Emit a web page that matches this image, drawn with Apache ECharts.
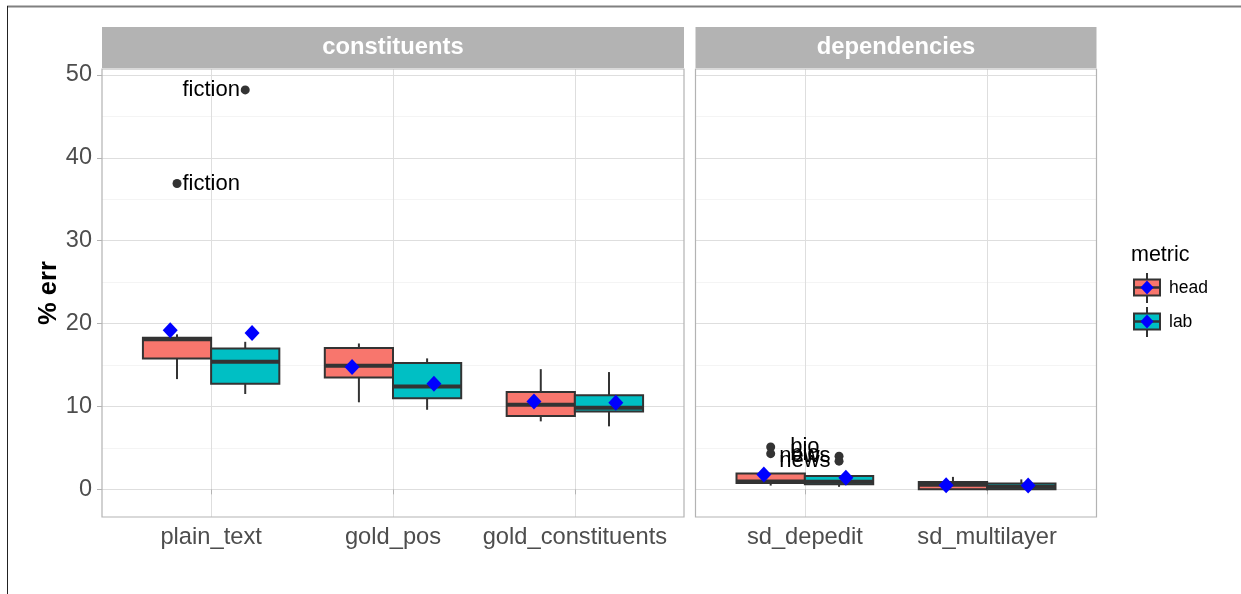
<!DOCTYPE html>
<html>
<head>
<meta charset="utf-8">
<script src="https://cdn.jsdelivr.net/npm/echarts@6/dist/echarts.min.js"></script>
<style>html,body{margin:0;padding:0;background:#fff}#c{width:1241px;height:594px}</style>
</head>
<body>
<div id="c"></div>
<script>
// ---- data ----
const panels = ['constituents', 'dependencies'];
const catsL = ['plain_text', 'gold_pos', 'gold_constituents'];
const catsR = ['sd_depedit', 'sd_multilayer'];
const yTicks = [0, 10, 20, 30, 40, 50];
const yMinor = [5, 15, 25, 35, 45];
// box stats: [lower whisker, Q1, median, Q3, upper whisker]
const headBoxL = [[13.3, 15.8, 18.1, 18.3, 18.7], [10.5, 13.5, 14.9, 17.05, 17.6], [8.2, 8.85, 10.2, 11.75, 14.5]];
const labBoxL  = [[11.5, 12.75, 15.4, 17.0, 17.8], [9.6, 11.0, 12.4, 15.25, 15.8], [7.6, 9.4, 9.85, 11.35, 14.15]];
const headBoxR = [[0.45, 0.75, 0.95, 1.9, 1.9], [0.0, 0.02, 0.55, 0.88, 1.5]];
const labBoxR  = [[0.3, 0.6, 0.9, 1.6, 1.6], [0.0, 0.02, 0.3, 0.7, 1.2]];
const headMeanL = [19.2, 14.75, 10.6];
const labMeanL  = [18.85, 12.75, 10.45];
const headMeanR = [1.8, 0.5];
const labMeanR  = [1.4, 0.45];
// outliers: [category index, value, label]
const headOutL = [[0, 36.9, 'fiction']];
const labOutL  = [[0, 48.2, 'fiction']];
const headOutR = [[0, 5.1, 'bio'], [0, 4.3, 'bio']];
const labOutR  = [[0, 4.0, 'news'], [0, 3.4, 'news']];

// ---- style ----
const HEAD = '#F8766D', LAB = '#00BFC4', LINE = '#333333';
const BOXW = 0.375, DODGE = 0.1875, MEANDODGE = 0.225;
const YMIN = -3.34, YMAX = 50.72;
const FONT = '"Liberation Sans", Arial, sans-serif';

function boxRender(offset, color) {
  return function (params, api) {
    const x = api.value(0) + offset;
    const lo = api.coord([x, api.value(1)]);
    const q1 = api.coord([x, api.value(2)]);
    const md = api.coord([x, api.value(3)]);
    const q3 = api.coord([x, api.value(4)]);
    const hi = api.coord([x, api.value(5)]);
    const w = api.size([BOXW, 0])[0];
    const cx = lo[0];
    const ls = { stroke: LINE, lineWidth: 2 };
    return {
      type: 'group', children: [
        { type: 'line', shape: { x1: cx, y1: hi[1], x2: cx, y2: q3[1] }, style: ls },
        { type: 'line', shape: { x1: cx, y1: q1[1], x2: cx, y2: lo[1] }, style: ls },
        { type: 'rect', shape: { x: cx - w / 2, y: q3[1], width: w, height: Math.max(q1[1] - q3[1], 0.5) }, style: { fill: color, stroke: LINE, lineWidth: 2 } },
        { type: 'line', shape: { x1: cx - w / 2, y1: md[1], x2: cx + w / 2, y2: md[1] }, style: { stroke: LINE, lineWidth: 4 } }
      ]
    };
  };
}

function boxData(arr) { return arr.map((b, i) => [i + 1].concat(b)); }
function meanData(arr, off) { return arr.map((v, i) => [i + 1 + off, v]); }
function outData(arr, off) { return arr.map(o => [o[0] + 1 + off, o[1]]); }
function labData(arr) { return arr.map(o => ({ value: [o[0] + 1, o[1]], name: o[2] })); }

function panelSeries(g, headBox, labBox, headMean, labMean, headOut, labOut) {
  const axes = { xAxisIndex: g, yAxisIndex: g * 2 };
  const dot = { color: LINE, opacity: 1 };
  const dia = { color: '#0000FF', opacity: 1 };
  return [
    Object.assign({ type: 'custom', name: 'head', renderItem: boxRender(-DODGE, HEAD), data: boxData(headBox), itemStyle: { color: HEAD }, z: 3 }, axes),
    Object.assign({ type: 'custom', name: 'lab', renderItem: boxRender(DODGE, LAB), data: boxData(labBox), itemStyle: { color: LAB }, z: 3 }, axes),
    Object.assign({ type: 'scatter', symbol: 'circle', symbolSize: 9, itemStyle: dot, data: outData(headOut, -DODGE), z: 4 }, axes),
    Object.assign({ type: 'scatter', symbol: 'circle', symbolSize: 9, itemStyle: dot, data: outData(labOut, DODGE), z: 4 }, axes),
    Object.assign({ type: 'scatter', symbol: 'diamond', symbolSize: [15, 16], itemStyle: dia, data: meanData(headMean, -MEANDODGE), z: 5 }, axes),
    Object.assign({ type: 'scatter', symbol: 'diamond', symbolSize: [15, 16], itemStyle: dia, data: meanData(labMean, MEANDODGE), z: 5 }, axes),
    Object.assign({
      type: 'scatter', symbolSize: 0, data: labData(headOut.concat(labOut)), z: 6, itemStyle: { opacity: 1 },
      label: { show: true, position: 'inside', formatter: p => p.name, color: '#000', fontSize: 22, fontFamily: FONT }
    }, axes)
  ];
}

function xAxisFor(g, cats) {
  const vals = cats.map((c, i) => i + 1);
  return {
    type: 'value', gridIndex: g, min: 0.4, max: cats.length + 0.6,
    axisLine: { show: false },
    axisTick: { show: true, customValues: vals, length: 5, lineStyle: { color: '#B3B3B3', width: 1 } },
    axisLabel: { customValues: vals, formatter: v => cats[Math.round(v) - 1], fontSize: 23.7, color: '#4D4D4D', fontFamily: FONT, margin: 8 },
    splitLine: { show: true, lineStyle: { color: '#DEDEDE', width: 1 } }
  };
}
function yAxisFor(g, showLabels) {
  return [{
    type: 'value', gridIndex: g, min: YMIN, max: YMAX,
    name: showLabels ? '% err' : '', nameLocation: 'middle', nameRotate: 90, nameGap: 39,
    nameTextStyle: { fontSize: 25.5, fontWeight: 'bold', color: '#000', fontFamily: FONT },
    axisLine: { show: false },
    axisTick: { show: showLabels, customValues: yTicks, length: 5, lineStyle: { color: '#B3B3B3', width: 1 } },
    axisLabel: { show: showLabels, customValues: yTicks, fontSize: 23.5, color: '#4D4D4D', fontFamily: FONT, margin: 10 },
    splitLine: { show: true, lineStyle: { color: '#DEDEDE', width: 1 } }
  }, {
    type: 'value', gridIndex: g, min: YMIN, max: YMAX,
    axisLine: { show: false }, axisLabel: { show: false },
    axisTick: { show: false, customValues: yMinor },
    splitLine: { show: true, lineStyle: { color: '#EFEFEF', width: 0.7 } }
  }];
}

function icon(color) {
  const svg = "<svg xmlns='http://www.w3.org/2000/svg' width='28' height='30' viewBox='0 0 28 30'>" +
    "<line x1='14' y1='0' x2='14' y2='30' stroke='#333' stroke-width='2'/>" +
    "<rect x='1' y='6.5' width='26' height='16' fill='" + color + "' stroke='#333' stroke-width='2'/>" +
    "<line x1='1' y1='14.5' x2='27' y2='14.5' stroke='#333' stroke-width='2.5'/>" +
    "<path d='M14 7.5 L20.5 14.5 L14 21.5 L7.5 14.5 Z' fill='#0000FF'/></svg>";
  return 'image://data:image/svg+xml;charset=utf-8,' + encodeURIComponent(svg);
}

const gridL = { left: 102, top: 69, width: 582, height: 448 };
const gridR = { left: 695.5, top: 69, width: 401, height: 448 };

const option = {
  backgroundColor: '#fff',
  animation: false,
  grid: [
    Object.assign({ show: true, borderColor: '#B3B3B3', borderWidth: 1.2, backgroundColor: 'transparent', z: 1 }, gridL),
    Object.assign({ show: true, borderColor: '#B3B3B3', borderWidth: 1.2, backgroundColor: 'transparent', z: 1 }, gridR)
  ],
  xAxis: [xAxisFor(0, catsL), xAxisFor(1, catsR)],
  yAxis: yAxisFor(0, true).concat(yAxisFor(1, false)),
  legend: {
    orient: 'vertical', left: 1133, top: 273, padding: 0, itemWidth: 28, itemHeight: 30, itemGap: 4,
    selectedMode: false,
    textStyle: { fontSize: 17.5, color: '#000', fontFamily: FONT, padding: [0, 0, 0, 3] },
    data: [{ name: 'head', icon: icon(HEAD) }, { name: 'lab', icon: icon(LAB) }]
  },
  graphic: [
    { type: 'line', shape: { x1: 7, y1: 6.5, x2: 1241, y2: 6.5 }, style: { stroke: '#808080', lineWidth: 2 } },
    { type: 'line', shape: { x1: 7.5, y1: 6, x2: 7.5, y2: 594 }, style: { stroke: '#222', lineWidth: 1 } },
    { type: 'rect', shape: { x: gridL.left, y: 27, width: gridL.width, height: 41 }, style: { fill: '#B3B3B3' } },
    { type: 'rect', shape: { x: gridR.left, y: 27, width: gridR.width, height: 41 }, style: { fill: '#B3B3B3' } },
    { type: 'text', x: gridL.left + gridL.width / 2, y: 47.5, style: { text: panels[0], fill: '#fff', font: 'bold 23.8px ' + FONT, textAlign: 'center', textVerticalAlign: 'middle' } },
    { type: 'text', x: gridR.left + gridR.width / 2, y: 47.5, style: { text: panels[1], fill: '#fff', font: 'bold 23.8px ' + FONT, textAlign: 'center', textVerticalAlign: 'middle' } },
    { type: 'text', x: 1131, y: 255, style: { text: 'metric', fill: '#000', font: '21.5px ' + FONT, textAlign: 'left', textVerticalAlign: 'middle' } }
  ],
  series: panelSeries(0, headBoxL, labBoxL, headMeanL, labMeanL, headOutL, labOutL)
    .concat(panelSeries(1, headBoxR, labBoxR, headMeanR, labMeanR, headOutR, labOutR))
};

const chart = echarts.init(document.getElementById('c'), null, { renderer: 'canvas' });
chart.setOption(option);
</script>
</body>
</html>
